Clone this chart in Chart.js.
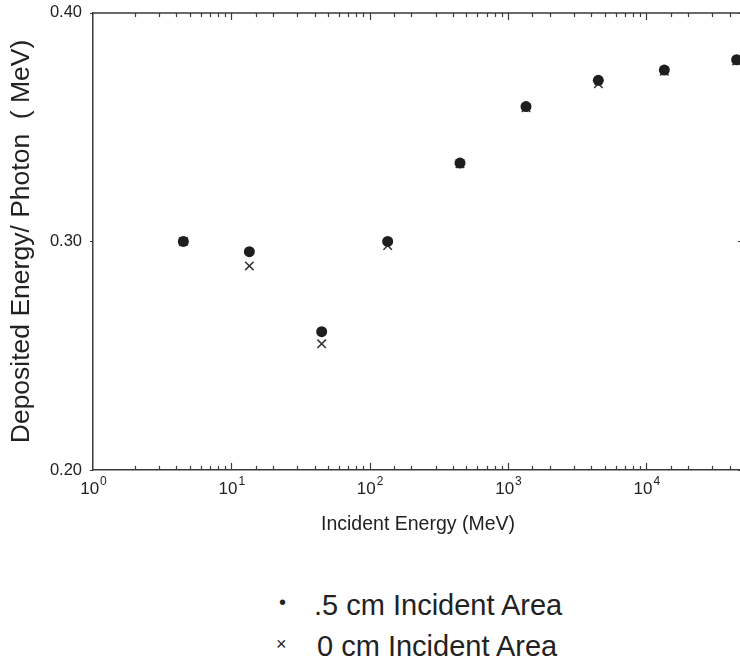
<!DOCTYPE html>
<html>
<head>
<meta charset="utf-8">
<script src="https://cdn.jsdelivr.net/npm/chart.js@4.4.1/dist/chart.umd.min.js"></script>
<style>
  html, body { margin: 0; padding: 0; background: #fff; overflow: hidden; width: 740px; height: 670px; }
  #wrap { position: absolute; left: 0; top: 0; width: 760px; height: 545px; }
  .leg { position: absolute; font-family: "Liberation Sans", Arial, sans-serif; color: #222; white-space: nowrap; line-height: 1.15; }
  .txt { font-size: 29px; }
</style>
</head>
<body>
<div id="wrap"><canvas id="c" width="760" height="545"></canvas></div>
<div class="leg" style="left:279px; top:591px; font-size:20px;">•</div>
<div class="leg txt" style="left:314px; top:589px;">.5 cm Incident Area</div>
<div class="leg" style="left:276px; top:634px; font-size:18px;">×</div>
<div class="leg txt" style="left:317px; top:630px;">0 cm Incident Area</div>
<script>
const energies = [4.5, 13.5, 45, 135, 450, 1350, 4500, 13500, 45000];
const halfCm = [0.300, 0.2955, 0.2605, 0.3000, 0.3343, 0.3590, 0.3705, 0.3750, 0.3795];
const zeroCm = [0.300, 0.2893, 0.2552, 0.2982, 0.3340, 0.3585, 0.3690, 0.3745, 0.3790];
const seriesNames = ['.5 cm Incident Area', '0 cm Incident Area'];
const yTicks = [0.20, 0.30, 0.40];
const xDecades = [1, 10, 100, 1000, 10000];

const FONT = '"Liberation Sans", Arial, sans-serif';
const AX = '#3a3a3a';

const framePlugin = {
  id: 'frame',
  afterDraw(chart) {
    const ctx = chart.ctx, a = chart.chartArea, xs = chart.scales.x, ys = chart.scales.y;
    ctx.save();
    ctx.strokeStyle = AX;
    ctx.lineWidth = 1.5;
    ctx.beginPath();
    ctx.moveTo(a.left, a.top); ctx.lineTo(a.right, a.top); ctx.lineTo(a.right, a.bottom);
    ctx.stroke();
    ctx.lineWidth = 1.2;
    xs.ticks.forEach(t => {
      const v = t.value;
      const lg = Math.log10(v);
      const major = Math.abs(lg - Math.round(lg)) < 1e-9;
      const len = major ? 7 : 4;
      const px = Math.round(xs.getPixelForValue(v)) + 0.5;
      if (px < a.left + 1 || px > a.right - 1) return;
      ctx.beginPath();
      ctx.moveTo(px, a.bottom); ctx.lineTo(px, a.bottom - len);
      ctx.moveTo(px, a.top); ctx.lineTo(px, a.top + len);
      ctx.stroke();
    });
    yTicks.forEach(v => {
      const py = Math.round(ys.getPixelForValue(v)) + 0.5;
      ctx.beginPath();
      ctx.moveTo(a.left - 3, py); ctx.lineTo(a.left, py);
      ctx.moveTo(a.right, py); ctx.lineTo(a.right - 5, py);
      ctx.stroke();
    });
    ctx.fillStyle = '#222';
    ctx.textBaseline = 'alphabetic';
    xDecades.forEach(v => {
      const px = xs.getPixelForValue(v);
      const exp = String(Math.round(Math.log10(v)));
      ctx.font = '17px ' + FONT;
      const w1 = ctx.measureText('10').width;
      ctx.font = '12px ' + FONT;
      const w2 = ctx.measureText(exp).width;
      const x0 = px - (w1 + w2) / 2;
      ctx.font = '17px ' + FONT;
      ctx.textAlign = 'left';
      ctx.fillText('10', x0, a.bottom + 24);
      ctx.font = '12px ' + FONT;
      ctx.fillText(exp, x0 + w1 + 1, a.bottom + 15);
    });
    ctx.restore();
  }
};

new Chart(document.getElementById('c'), {
  type: 'scatter',
  data: {
    datasets: [
      {
        label: seriesNames[0],
        data: energies.map((e, i) => ({ x: e, y: halfCm[i] })),
        pointStyle: 'circle',
        pointRadius: 5.5,
        backgroundColor: '#1e1e1e',
        borderColor: '#1e1e1e',
        borderWidth: 0
      },
      {
        label: seriesNames[1],
        data: energies.map((e, i) => ({ x: e, y: zeroCm[i] })),
        pointStyle: 'crossRot',
        pointRadius: 6,
        borderColor: '#333',
        backgroundColor: '#333',
        borderWidth: 1.5
      }
    ]
  },
  options: {
    responsive: false,
    animation: false,
    events: [],
    layout: { padding: { left: 0, right: 17, top: 10, bottom: 0 } },
    plugins: { legend: { display: false }, tooltip: { enabled: false } },
    scales: {
      x: {
        type: 'logarithmic',
        min: 1,
        max: 50000,
        grid: { display: false },
        border: { display: true, color: AX, width: 1.5 },
        ticks: { display: false, autoSkip: false },
        title: {
          display: true,
          text: 'Incident Energy (MeV)',
          color: '#222',
          font: { family: FONT, size: 19.5 },
          padding: { top: 30, bottom: 9 }
        },
        afterFit(s) { s.height = 75; }
      },
      y: {
        min: 0.20,
        max: 0.40,
        grid: { display: false },
        border: { display: true, color: AX, width: 1.5 },
        afterBuildTicks(s) { s.ticks = yTicks.map(v => ({ value: v })); },
        ticks: {
          color: '#222',
          font: { family: FONT, size: 16.5 },
          padding: 3,
          callback: v => v.toFixed(2)
        },
        title: {
          display: true,
          text: 'Deposited Energy/ Photon  ( MeV)',
          color: '#222',
          font: { family: FONT, size: 26.5 },
          padding: { top: 6, bottom: 0 }
        },
        afterFit(s) { s.width = 93; }
      }
    }
  },
  plugins: [framePlugin]
});
</script>
</body>
</html>
